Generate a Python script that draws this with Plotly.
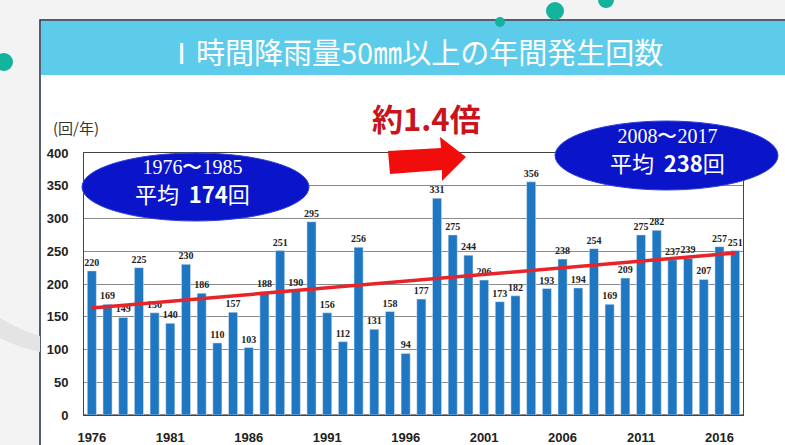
import plotly.graph_objects as go
import numpy as np

years = list(range(1976, 2018))
counts = [220, 169, 149, 225, 156, 140, 230, 186, 110, 157,
          103, 188, 251, 190, 295, 156, 112, 256, 131, 158,
          94, 177, 331, 275, 244, 206, 173, 182, 356, 193,
          238, 194, 254, 169, 209, 275, 282, 237, 239, 207,
          257, 251]
tick_years = [1976, 1981, 1986, 1991, 1996, 2001, 2006, 2011, 2016]

W, H = 785, 445
L, R, T, B = 84, 42, 153, 30
PW, PH = W - L - R, H - T - B

def px(x):
    return (x - L) / PW

def py(y):
    return (H - B - y) / PH

coef = np.polyfit(years, counts, 1)
trend = np.polyval(coef, [years[0], years[-1]])

fig = go.Figure()
fig.add_trace(go.Bar(
    x=years, y=counts, marker_color="#1f77c2", width=0.58,
    text=[str(v) for v in counts], textposition="outside", constraintext="none",
    textfont=dict(family="Liberation Serif", size=10, color="#222", weight="bold"),
    cliponaxis=False, showlegend=False, hoverinfo="x+y"))
fig.add_trace(go.Scatter(
    x=[years[0], years[-1]], y=list(trend), mode="lines",
    line=dict(color="#e8242a", width=3.5), showlegend=False))

shapes = []
# card + banner
shapes.append(dict(type="rect", xref="paper", yref="paper", layer="below",
                   x0=px(40), x1=px(800), y0=py(460), y1=py(20),
                   fillcolor="white", line=dict(color="#1c2b48", width=1.5)))
shapes.append(dict(type="rect", xref="paper", yref="paper", layer="below",
                   x0=px(41), x1=px(800), y0=py(75), y1=py(21),
                   fillcolor="#5dcbea", line=dict(width=0)))
# grey background curve at left
shapes.append(dict(type="path", xref="paper", yref="paper", layer="below",
                   path=f"M {px(0)},{py(318)} Q {px(20)},{py(330)} {px(40)},{py(336)} L {px(40)},{py(352)} Q {px(20)},{py(348)} {px(0)},{py(338)} Z",
                   fillcolor="#e4e4e4", line=dict(width=0)))
# teal dots
for cx, cy, r in [(555, 11, 9), (606, 0, 8), (500, 22, 5), (4, 62, 9)]:
    shapes.append(dict(type="circle", xref="paper", yref="paper", layer="below",
                       x0=px(cx - r), x1=px(cx + r), y0=py(cy + r), y1=py(cy - r),
                       fillcolor="#13b39c", line=dict(width=0)))
# ellipses
shapes.append(dict(type="circle", xref="paper", yref="paper", layer="above",
                   x0=px(82), x1=px(309), y0=py(221), y1=py(153),
                   fillcolor="#0a14c8", line=dict(color="#3040d8", width=1)))
shapes.append(dict(type="circle", xref="paper", yref="paper", layer="above",
                   x0=px(555), x1=px(778), y0=py(190), y1=py(121),
                   fillcolor="#0a14c8", line=dict(color="#3040d8", width=1)))
# red arrow
pts = [(388, 151), (441, 148), (440, 137), (466, 157), (442, 181), (442, 170), (390, 174)]
path = "M " + " L ".join(f"{px(a)},{py(b)}" for a, b in pts) + " Z"
shapes.append(dict(type="path", xref="paper", yref="paper", layer="above",
                   path=path, fillcolor="#f20d0d", line=dict(width=0)))

jp = "Noto Sans CJK JP"

def ann(x, y, text, font):
    return dict(x=px(x), y=py(y), xref="paper", yref="paper", showarrow=False,
                xanchor="center", yanchor="middle", text=text, font=font)

def oval_text(period, avg):
    return (f"<span style='font-family:Liberation Serif;font-size:20px'>{period}</span><br>"
            f"平均  <b>{avg}</b>回")

annotations = [
    ann(415, 51, "Ⅰ時間降雨量50㎜以上の年間発生回数",
        dict(family=jp, size=29, color="white")),
    ann(76, 128, "(回/年)", dict(family=jp, size=15, color="#333")),
    ann(426, 117, "<b>約1.4倍</b>", dict(family=jp, size=31, color="#c8141c")),
    ann(192, 182, oval_text("1976〜1985", 174), dict(family=jp, size=22, color="white")),
    ann(667, 151, oval_text("2008〜2017", 238), dict(family=jp, size=22, color="white")),
]

fig.update_layout(
    width=W, height=H, margin=dict(l=L, r=R, t=T, b=B, autoexpand=False),
    paper_bgcolor="#f3f3f3", plot_bgcolor="white",
    shapes=shapes, annotations=annotations, bargap=0.4,
    uniformtext=dict(minsize=10, mode="show"),
    xaxis=dict(range=[1975.5, 2017.5], tickvals=tick_years, showgrid=False,
               automargin=False,
               ticks="", ticklabelstandoff=10, showline=True, linecolor="#444",
               linewidth=1, mirror=True,
               tickfont=dict(family="Liberation Sans", size=13, color="#222", weight="bold")),
    yaxis=dict(range=[0, 400], dtick=50, showgrid=True, gridcolor="#8a8a8a",
               gridwidth=1, zeroline=True, zerolinecolor="#8a8a8a", automargin=False,
               ticks="", ticklabelstandoff=12, showline=True, linecolor="#444",
               linewidth=1, mirror=True,
               tickfont=dict(family="Liberation Sans", size=13, color="#222", weight="bold")),
)

fig.write_html("out.html", config={"displayModeBar": False},
               post_script="document.body.style.margin='0px';document.body.style.overflow='hidden';")
